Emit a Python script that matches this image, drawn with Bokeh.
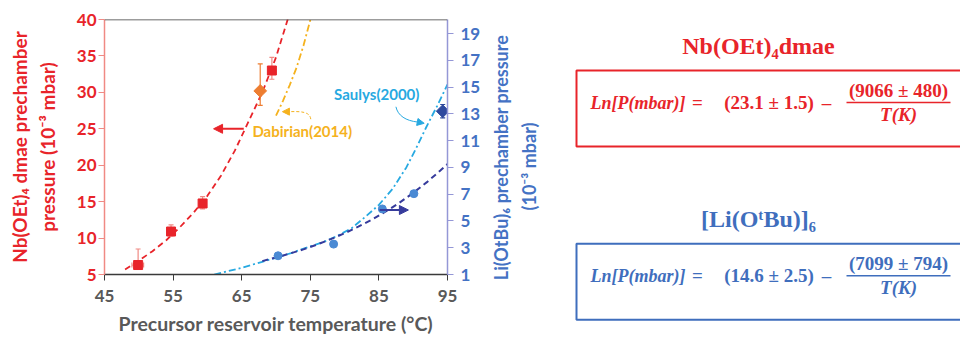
from bokeh.plotting import figure
from bokeh.layouts import row
from bokeh.models import Range1d, LinearAxis, FixedTicker, Arrow, NormalHead, Span
from bokeh.core.properties import value
from bokeh.embed import file_html
from bokeh.resources import INLINE
import math

# ---------------- data ----------------
x_ticks = [45, 55, 65, 75, 85, 95]
left_ticks = [5, 10, 15, 20, 25, 30, 35, 40]
right_ticks = [1, 3, 5, 7, 9, 11, 13, 15, 17, 19]

# Nb(OEt)4dmae measured points (left axis, 1e-3 mbar)
nb_temp = [49.9, 54.7, 59.3, 69.4]
nb_press = [6.3, 10.9, 14.75, 33.0]
nb_press_lo = [5.9, 10.3, 14.0, 31.8]
nb_press_hi = [8.5, 11.8, 15.7, 34.8]
nb_temp_lo = [49.0, 54.2, 59.0, 69.0]
nb_temp_hi = [50.7, 55.2, 59.6, 69.8]

# Dabirian(2014) point
dab_temp = [67.7]
dab_press = [30.2]
dab_press_lo = [28.2]
dab_press_hi = [33.9]
dab_temp_lo = [67.2]
dab_temp_hi = [68.2]

# Nb fit curve
nb_fit_temp = [48, 50, 52, 54, 56, 58, 60, 62, 64, 66, 68, 70, 71.8]
nb_fit_press = [5.7, 6.9, 8.2, 9.7, 11.5, 13.5, 15.8, 18.6, 22.0, 26.0, 30.0, 34.8, 40.3]

# Dabirian(2014) curve
dab_fit_temp = [70.0, 71.0, 72.0, 73.0, 74.0, 75.1]
dab_fit_press = [26.8, 28.8, 31.0, 33.4, 36.4, 40.3]

# Li(OtBu)6 measured points (right axis, 1e-3 mbar)
li_temp = [70.3, 78.4, 85.5, 90.1]
li_press = [2.4, 3.27, 5.9, 7.04]

# Li fit curve
li_fit_temp = [68, 70, 72, 74, 76, 78, 80, 82, 84, 86, 88, 90, 92, 94, 95]
li_fit_press = [2.0, 2.27, 2.56, 2.88, 3.24, 3.64, 4.08, 4.57, 5.11, 5.71, 6.36, 7.10, 7.90, 8.78, 9.25]

# Saulys(2000) point and curve
sau_temp = [94.3]
sau_press = [13.2]
sau_press_lo = [12.7]
sau_press_hi = [13.7]
sau_fit_temp = [61, 63, 65, 68, 70, 72.2, 75, 77, 79, 81, 83, 85, 87, 89, 90.4, 91.9, 93.5, 95]
sau_fit_press = [1.0, 1.25, 1.5, 1.95, 2.25, 2.6, 3.1, 3.45, 3.9, 4.45, 5.3, 6.2, 7.4, 9.0, 10.4, 12.0, 13.6, 15.2]

# axis titles
x_title = "Precursor reservoir temperature (°C)"
left_title = ["Nb(OEt)\u2084 dmae prechamber", "pressure (10\u207b\u00b3 mbar)"]
right_title = ["Li(OtBu)\u2086 prechamber pressure", "(10\u207b\u00b3 mbar)"]

RED = "#e8242a"
RED_L = "#f08a84"
ORANGE = "#ed7d31"
GOLD = "#f5b21e"
CYAN = "#27a9e1"
MBLUE = "#4a8ad4"
NAVY = "#363b9c"
DBLUE = "#2f4a9e"
AXBLUE = "#4472c4"
AXBLUE_L = "#9497d6"
GRAY = "#595959"
SANS = "Lato"
SERIF = "Liberation Serif"

PW = 483  # width of the chart canvas

# ---------------- left chart ----------------
p = figure(width=PW, height=337, x_range=Range1d(45, 95), y_range=Range1d(5, 40),
           output_backend="svg", toolbar_location=None,
           min_border_left=104, min_border_right=PW - 447, min_border_top=19, min_border_bottom=57)
p.frame_align = False
p.extra_y_ranges = {"li": Range1d(1, 20.05)}
p.xgrid.grid_line_color = None
p.ygrid.grid_line_color = None
p.outline_line_color = None

xa = p.xaxis[0]
xa.ticker = FixedTicker(ticks=x_ticks)
xa.axis_line_color = "#3a3a3a"
xa.axis_line_width = 1.5
xa.major_tick_line_color = "#3a3a3a"
xa.major_tick_out = 6
xa.major_tick_in = 0
xa.minor_tick_line_color = None
xa.major_label_text_font = SANS
xa.major_label_text_font_style = "bold"
xa.major_label_text_font_size = "17px"
xa.major_label_text_color = GRAY
xa.major_label_standoff = 9
xa.axis_label = x_title
xa.axis_label_text_font = SANS
xa.axis_label_text_font_style = "bold"
xa.axis_label_text_font_size = "19.5px"
xa.axis_label_text_color = GRAY
xa.axis_label_standoff = 7

ya = p.yaxis[0]
ya.ticker = FixedTicker(ticks=left_ticks)
ya.axis_line_color = RED_L
ya.axis_line_width = 1.5
ya.major_tick_line_color = RED_L
ya.major_tick_out = 6
ya.major_tick_in = 0
ya.minor_tick_line_color = None
ya.major_label_text_font = SANS
ya.major_label_text_font_style = "bold"
ya.major_label_text_font_size = "17px"
ya.major_label_text_color = RED
ya.major_label_standoff = 2
ya.axis_label = "\n".join(left_title)
ya.axis_label_text_font = SANS
ya.axis_label_text_font_style = "bold"
ya.axis_label_text_font_size = "19px"
ya.axis_label_text_color = RED
ya.axis_label_standoff = 15

ra = LinearAxis(y_range_name="li", ticker=FixedTicker(ticks=right_ticks))
ra.axis_line_color = AXBLUE_L
ra.axis_line_width = 1.5
ra.major_tick_line_color = AXBLUE_L
ra.major_tick_out = 6
ra.major_tick_in = 0
ra.minor_tick_line_color = None
ra.major_label_text_font = SANS
ra.major_label_text_font_style = "bold"
ra.major_label_text_font_size = "17px"
ra.major_label_text_color = AXBLUE
ra.major_label_standoff = 7
p.add_layout(ra, "right")

p.add_layout(Span(location=40, dimension="width", line_color="#3a3a3a", line_width=1.5))

# fit curves
p.line(nb_fit_temp, nb_fit_press, line_color=RED, line_width=1.8, line_dash="6 4")
p.line(dab_fit_temp, dab_fit_press, line_color=GOLD, line_width=1.8, line_dash="7 3 2 3")
p.line(sau_fit_temp, sau_fit_press, y_range_name="li", line_color=CYAN, line_width=1.8, line_dash="7 3 2 3")
p.line(li_fit_temp, li_fit_press, y_range_name="li", line_color=NAVY, line_width=2, line_dash="6 4")

# error bars Nb
p.segment(x0=nb_temp, y0=nb_press_lo, x1=nb_temp, y1=nb_press_hi, line_color=RED_L, line_width=1.2)
p.segment(x0=nb_temp_lo, y0=nb_press, x1=nb_temp_hi, y1=nb_press, line_color=RED_L, line_width=1.2)
p.scatter(nb_temp + nb_temp, nb_press_lo + nb_press_hi, marker="dash", size=5, line_color=RED_L, line_width=1.2)
p.scatter(nb_temp_lo + nb_temp_hi, nb_press + nb_press, marker="dash", angle=math.pi / 2, size=5,
          line_color=RED_L, line_width=1.2)
p.scatter(nb_temp, nb_press, marker="square", size=9, fill_color=RED, line_color=RED)

# Dabirian point
p.segment(x0=dab_temp, y0=dab_press_lo, x1=dab_temp, y1=dab_press_hi, line_color=ORANGE, line_width=1.2)
p.segment(x0=dab_temp_lo, y0=dab_press, x1=dab_temp_hi, y1=dab_press, line_color=ORANGE, line_width=1.2)
p.scatter(dab_temp + dab_temp, dab_press_lo + dab_press_hi, marker="dash", size=5, line_color=ORANGE, line_width=1.2)
p.scatter(dab_temp, dab_press, marker="square", angle=math.pi / 4, size=9, fill_color=ORANGE, line_color=ORANGE)

# Li points
p.scatter(li_temp, li_press, y_range_name="li", marker="circle", size=8, fill_color=MBLUE, line_color=MBLUE)

# Saulys point
p.segment(x0=sau_temp, y0=sau_press_lo, x1=sau_temp, y1=sau_press_hi, y_range_name="li", line_color=DBLUE, line_width=1.2)
p.scatter(sau_temp + sau_temp, sau_press_lo + sau_press_hi, y_range_name="li", marker="dash", size=5,
          line_color=DBLUE, line_width=1.2)
p.scatter(sau_temp, sau_press, y_range_name="li", marker="square", angle=math.pi / 4, size=9,
          fill_color=DBLUE, line_color=DBLUE)

# annotations
p.text(x=[66.56], y=[24.75], text=["Dabirian(2014)"], text_font=value(SANS), text_font_style="bold",
       text_font_size="15px", text_color=GOLD, text_align="left", text_baseline="middle")
p.text(x=[78.47], y=[29.81], text=["Saulys(2000)"], text_font=value(SANS), text_font_style="bold",
       text_font_size="15px", text_color=CYAN, text_align="left", text_baseline="middle")

p.add_layout(Arrow(end=NormalHead(size=9, fill_color=RED, line_color=RED), x_start=65.3, y_start=25.0,
                   x_end=60.9, y_end=25.0, line_color=RED, line_width=2))
p.add_layout(Arrow(end=NormalHead(size=9, fill_color=NAVY, line_color=NAVY), x_start=85.1, y_start=13.85,
                   x_end=89.3, y_end=13.85, line_color=NAVY, line_width=2))

p.bezier(x0=[75.07], y0=[26.32], x1=[71.9], y1=[27.35], cx0=[74.93], cy0=[27.39], cx1=[73.6], cy1=[27.39],
         line_color=GOLD, line_width=1, line_dash="3 2")
p.add_layout(Arrow(end=NormalHead(size=7, fill_color=GOLD, line_color=GOLD), x_start=71.9, y_start=27.35,
                   x_end=70.94, y_end=27.35, line_color=GOLD, line_width=1))
p.bezier(x0=[87.48], y0=[28.02], x1=[90.69], y1=[25.92], cx0=[87.77], cy0=[26.8], cx1=[88.9], cy1=[26.1],
         line_color=CYAN, line_width=1)
p.add_layout(Arrow(end=NormalHead(size=7, fill_color=CYAN, line_color=CYAN), x_start=90.69, y_start=25.92,
                   x_end=91.6, y_end=25.75, line_color=CYAN, line_width=1))

# ---------------- right part: right-axis title + equation panels ----------------
# q uses pixel coordinates of the whole picture (x measured from the picture's left edge)
q = figure(width=960 - PW, height=337, x_range=Range1d(PW, 960), y_range=Range1d(337, 0),
           output_backend="svg", toolbar_location=None, min_border=0,
           x_axis_location=None, y_axis_location=None)
q.frame_align = False
q.xgrid.grid_line_color = None
q.ygrid.grid_line_color = None
q.outline_line_color = None

# right axis title, reading bottom-to-top
q.text(x=[500, 528], y=[157, 166], text=right_title, angle=math.pi / 2, text_font=value(SANS),
       text_font_style="bold", text_font_size="18px", text_color=AXBLUE,
       text_align="center", text_baseline="middle")

EQBLUE = "#3f6ebd"
EQ_SIZE = "19px"

def panel(color, title, ty, box_top, box_bot, const, num):
    q.text(x=[758], y=[ty], text=[title], text_font=value(SERIF), text_font_style="bold",
           text_font_size="24px", text_color=color, text_align="center", text_baseline="middle")
    q.quad(left=[576], right=[970], top=[box_top], bottom=[box_bot], fill_color=None,
           line_color=color, line_width=2)
    mid = box_top + 32
    q.text(x=[590], y=[mid], text=["Ln[P(mbar)]"], text_font=value(SERIF), text_font_style="bold italic",
           text_font_size="18px", text_color=color, text_align="left", text_baseline="middle")
    q.text(x=[697], y=[mid], text=["="], text_font=value(SERIF), text_font_style="bold",
           text_font_size=EQ_SIZE, text_color=color, text_align="center", text_baseline="middle")
    q.text(x=[768.5], y=[mid], text=[const], text_font=value(SERIF), text_font_style="bold",
           text_font_size=EQ_SIZE, text_color=color, text_align="center", text_baseline="middle")
    q.text(x=[826], y=[mid], text=["\u2013"], text_font=value(SERIF), text_font_style="bold",
           text_font_size=EQ_SIZE, text_color=color, text_align="center", text_baseline="middle")
    q.text(x=[898], y=[mid - 12.5], text=[num], text_font=value(SERIF), text_font_style="bold",
           text_font_size=EQ_SIZE, text_color=color, text_align="center", text_baseline="middle")
    q.segment(x0=[846], x1=[950], y0=[mid], y1=[mid], line_color=color, line_width=1.5)
    q.text(x=[898], y=[mid + 11.5], text=["T(K)"], text_font=value(SERIF), text_font_style="bold italic",
           text_font_size=EQ_SIZE, text_color=color, text_align="center", text_baseline="middle")

panel(RED, "Nb(OEt)\u2084dmae", 45, 70, 146, "(23.1 \u00b1 1.5)", "(9066 \u00b1 480)")
panel(EQBLUE, "[Li(O\u1d57Bu)]\u2086", 218, 243.3, 319.3, "(14.6 \u00b1 2.5)", "(7099 \u00b1 794)")

layout = row(p, q)
open("out.html", "w").write(file_html(layout, INLINE))
